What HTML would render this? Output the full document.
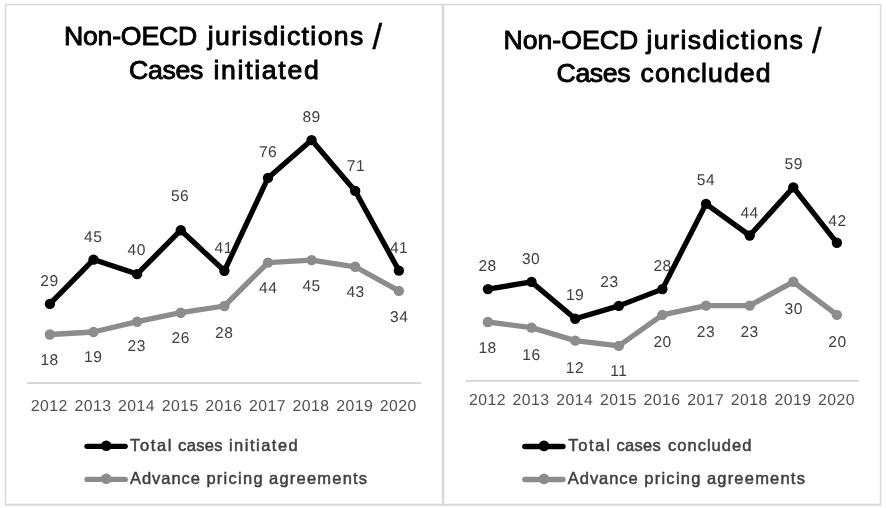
<!DOCTYPE html>
<html lang="en">
<head>
<meta charset="utf-8">
<title>Non-OECD jurisdictions</title>
<style>
html,body{margin:0;padding:0;background:#fff;}
body{width:886px;height:508px;overflow:hidden;}
svg{display:block;}
text{font-family:"Liberation Sans",sans-serif;}
.ttl{font-size:26.67px;fill:#000;stroke:#000;stroke-width:0.9px;}
.dl text{font-size:15.6px;fill:#404040;text-anchor:middle;letter-spacing:0.5px;text-rendering:geometricPrecision;}
.yr text{font-size:15.8px;fill:#505050;text-anchor:middle;letter-spacing:0.45px;text-rendering:geometricPrecision;}
.lg{font-size:16.5px;fill:#404040;stroke:#404040;stroke-width:0.5px;}
</style>
</head>
<body>
<svg width="886" height="508" viewBox="0 0 886 508">
<rect x="0" y="0" width="886" height="508" fill="#fff"/>
<rect x="5.5" y="4.5" width="437" height="500" fill="#fff" stroke="#d9d9d9" stroke-width="1.5"/>
<rect x="443.5" y="4.5" width="437" height="500" fill="#fff" stroke="#d9d9d9" stroke-width="1.5"/>
<line x1="4.8" y1="505.2" x2="881.2" y2="505.2" stroke="#d9d9d9" stroke-width="1.3"/>
<g id="left">
<line x1="27" y1="383.0" x2="421.2" y2="383.0" stroke="#d6d6d6" stroke-width="1.8"/>
<polyline points="49.9,334.5 93.5,332.0 137.1,321.7 180.8,312.7 224.4,306.0 268.0,262.6 311.6,260.1 355.2,266.8 398.9,290.9" fill="none" stroke="#8c8c8c" stroke-width="5.3" stroke-linejoin="round" stroke-linecap="round"/>
<circle cx="49.9" cy="334.5" r="5.2" fill="#8c8c8c"/>
<circle cx="93.5" cy="332.0" r="5.2" fill="#8c8c8c"/>
<circle cx="137.1" cy="321.7" r="5.2" fill="#8c8c8c"/>
<circle cx="180.8" cy="312.7" r="5.2" fill="#8c8c8c"/>
<circle cx="224.4" cy="306.0" r="5.2" fill="#8c8c8c"/>
<circle cx="268.0" cy="262.6" r="5.2" fill="#8c8c8c"/>
<circle cx="311.6" cy="260.1" r="5.2" fill="#8c8c8c"/>
<circle cx="355.2" cy="266.8" r="5.2" fill="#8c8c8c"/>
<circle cx="398.9" cy="290.9" r="5.2" fill="#8c8c8c"/>
<polyline points="49.9,303.9 93.5,259.6 137.1,274.1 180.8,230.2 224.4,270.8 268.0,177.9 311.6,140.1 355.2,190.9 398.9,270.6" fill="none" stroke="#000" stroke-width="5.3" stroke-linejoin="round" stroke-linecap="round"/>
<circle cx="49.9" cy="303.9" r="5.2" fill="#000"/>
<circle cx="93.5" cy="259.6" r="5.2" fill="#000"/>
<circle cx="137.1" cy="274.1" r="5.2" fill="#000"/>
<circle cx="180.8" cy="230.2" r="5.2" fill="#000"/>
<circle cx="224.4" cy="270.8" r="5.2" fill="#000"/>
<circle cx="268.0" cy="177.9" r="5.2" fill="#000"/>
<circle cx="311.6" cy="140.1" r="5.2" fill="#000"/>
<circle cx="355.2" cy="190.9" r="5.2" fill="#000"/>
<circle cx="398.9" cy="270.6" r="5.2" fill="#000"/>
<g class="dl">
<text x="49.4" y="285.6">29</text>
<text x="93.2" y="242.0">45</text>
<text x="136.7" y="255.1">40</text>
<text x="180.1" y="200.5">56</text>
<text x="223.7" y="253.1">41</text>
<text x="268.1" y="157.0">76</text>
<text x="311.6" y="122.1">89</text>
<text x="355.9" y="170.9">71</text>
<text x="399.1" y="253.1">41</text>
<text x="49.6" y="365.1">18</text>
<text x="93.2" y="362.1">19</text>
<text x="136.8" y="351.3">23</text>
<text x="180.8" y="343.0">26</text>
<text x="224.2" y="338.2">28</text>
<text x="268.2" y="293.4">44</text>
<text x="311.6" y="291.2">45</text>
<text x="355.6" y="296.6">43</text>
<text x="399.2" y="321.7">34</text>
</g>
<g class="yr">
<text x="49.3" y="411.0">2012</text>
<text x="92.9" y="411.0">2013</text>
<text x="136.6" y="411.0">2014</text>
<text x="180.2" y="411.0">2015</text>
<text x="223.8" y="411.0">2016</text>
<text x="267.4" y="411.0">2017</text>
<text x="311.0" y="411.0">2018</text>
<text x="354.7" y="411.0">2019</text>
<text x="398.3" y="411.0">2020</text>
</g>
<text class="ttl" x="63.9" y="45.4" style="letter-spacing:-0.2px">Non-OECD</text>
<text class="ttl" x="207.7" y="45.4" style="letter-spacing:1.37px">jurisdictions</text>
<text class="ttl" x="372.6" y="49.3" style="font-size:34.5px;stroke-width:0.4px">/</text>
<text class="ttl" x="129.1" y="78.7" style="letter-spacing:-0.35px">Cases</text>
<text class="ttl" x="213.4" y="78.7" style="letter-spacing:1.69px">initiated</text>
<line x1="87.0" y1="446.3" x2="125.20000000000002" y2="446.3" stroke="#000" stroke-width="5.3" stroke-linecap="round"/>
<circle cx="106.2" cy="445.7" r="5.3" fill="#000"/>
<text class="lg" x="130.0" y="450.6" style="letter-spacing:1.67px">Total</text>
<text class="lg" x="178.1" y="450.6" style="letter-spacing:0.31px">cases</text>
<text class="lg" x="228.9" y="450.6" style="letter-spacing:1.5px">initiated</text>
<line x1="87.0" y1="479.4" x2="125.20000000000002" y2="479.4" stroke="#8c8c8c" stroke-width="5.3" stroke-linecap="round"/>
<circle cx="106.2" cy="478.79999999999995" r="5.3" fill="#8c8c8c"/>
<text class="lg" x="130.0" y="484.4" style="letter-spacing:0.95px">Advance</text>
<text class="lg" x="206.4" y="484.4" style="letter-spacing:1.28px">pricing</text>
<text class="lg" x="269.1" y="484.4" style="letter-spacing:1.21px">agreements</text>
</g>
<g id="right">
<line x1="465.3" y1="380.9" x2="859" y2="380.9" stroke="#d6d6d6" stroke-width="1.8"/>
<polyline points="487.9,322.0 531.5,327.6 575.2,340.6 618.8,345.9 662.4,314.9 706.0,305.6 749.7,305.6 793.3,281.8 836.9,314.9" fill="none" stroke="#8c8c8c" stroke-width="5.3" stroke-linejoin="round" stroke-linecap="round"/>
<circle cx="487.9" cy="322.0" r="5.2" fill="#8c8c8c"/>
<circle cx="531.5" cy="327.6" r="5.2" fill="#8c8c8c"/>
<circle cx="575.2" cy="340.6" r="5.2" fill="#8c8c8c"/>
<circle cx="618.8" cy="345.9" r="5.2" fill="#8c8c8c"/>
<circle cx="662.4" cy="314.9" r="5.2" fill="#8c8c8c"/>
<circle cx="706.0" cy="305.6" r="5.2" fill="#8c8c8c"/>
<circle cx="749.7" cy="305.6" r="5.2" fill="#8c8c8c"/>
<circle cx="793.3" cy="281.8" r="5.2" fill="#8c8c8c"/>
<circle cx="836.9" cy="314.9" r="5.2" fill="#8c8c8c"/>
<polyline points="487.9,289.1 531.5,281.9 575.2,318.8 618.8,305.9 662.4,289.1 706.0,203.9 749.7,235.5 793.3,187.4 836.9,242.8" fill="none" stroke="#000" stroke-width="5.3" stroke-linejoin="round" stroke-linecap="round"/>
<circle cx="487.9" cy="289.1" r="5.2" fill="#000"/>
<circle cx="531.5" cy="281.9" r="5.2" fill="#000"/>
<circle cx="575.2" cy="318.8" r="5.2" fill="#000"/>
<circle cx="618.8" cy="305.9" r="5.2" fill="#000"/>
<circle cx="662.4" cy="289.1" r="5.2" fill="#000"/>
<circle cx="706.0" cy="203.9" r="5.2" fill="#000"/>
<circle cx="749.7" cy="235.5" r="5.2" fill="#000"/>
<circle cx="793.3" cy="187.4" r="5.2" fill="#000"/>
<circle cx="836.9" cy="242.8" r="5.2" fill="#000"/>
<g class="dl">
<text x="487.6" y="270.8">28</text>
<text x="531.1" y="263.8">30</text>
<text x="575.1" y="299.7">19</text>
<text x="609.5" y="287.1">23</text>
<text x="662.6" y="270.8">28</text>
<text x="706.0" y="185.1">54</text>
<text x="749.6" y="218.2">44</text>
<text x="793.8" y="168.8">59</text>
<text x="837.4" y="225.7">42</text>
<text x="487.6" y="352.7">18</text>
<text x="531.5" y="359.6">16</text>
<text x="575.0" y="372.6">12</text>
<text x="618.8" y="375.7">11</text>
<text x="662.6" y="347.1">20</text>
<text x="706.0" y="336.9">23</text>
<text x="749.6" y="336.9">23</text>
<text x="793.8" y="313.9">30</text>
<text x="837.4" y="347.2">20</text>
</g>
<g class="yr">
<text x="487.5" y="404.9">2012</text>
<text x="531.1" y="404.9">2013</text>
<text x="574.8" y="404.9">2014</text>
<text x="618.4" y="404.9">2015</text>
<text x="662.0" y="404.9">2016</text>
<text x="705.7" y="404.9">2017</text>
<text x="749.3" y="404.9">2018</text>
<text x="792.9" y="404.9">2019</text>
<text x="836.6" y="404.9">2020</text>
</g>
<text class="ttl" x="503.5" y="49.4" style="letter-spacing:-0.02px">Non-OECD</text>
<text class="ttl" x="646.5" y="49.4" style="letter-spacing:1.42px">jurisdictions</text>
<text class="ttl" x="812.0" y="53.3" style="font-size:34.5px;stroke-width:0.4px">/</text>
<text class="ttl" x="556.6" y="82.0" style="letter-spacing:-0.4px">Cases</text>
<text class="ttl" x="640.5" y="82.0" style="letter-spacing:1.07px">concluded</text>
<line x1="524.8000000000001" y1="446.5" x2="563.0" y2="446.5" stroke="#000" stroke-width="5.3" stroke-linecap="round"/>
<circle cx="544.0" cy="445.9" r="5.3" fill="#000"/>
<text class="lg" x="568.3" y="450.5" style="letter-spacing:1.67px">Total</text>
<text class="lg" x="616.4" y="450.5" style="letter-spacing:0.31px">cases</text>
<text class="lg" x="668.0" y="450.5" style="letter-spacing:1.02px">concluded</text>
<line x1="524.8000000000001" y1="479.5" x2="563.0" y2="479.5" stroke="#8c8c8c" stroke-width="5.3" stroke-linecap="round"/>
<circle cx="544.0" cy="478.9" r="5.3" fill="#8c8c8c"/>
<text class="lg" x="567.8" y="484.4" style="letter-spacing:0.95px">Advance</text>
<text class="lg" x="644.2" y="484.4" style="letter-spacing:1.28px">pricing</text>
<text class="lg" x="706.9" y="484.4" style="letter-spacing:1.21px">agreements</text>
</g>
</svg>
</body>
</html>
